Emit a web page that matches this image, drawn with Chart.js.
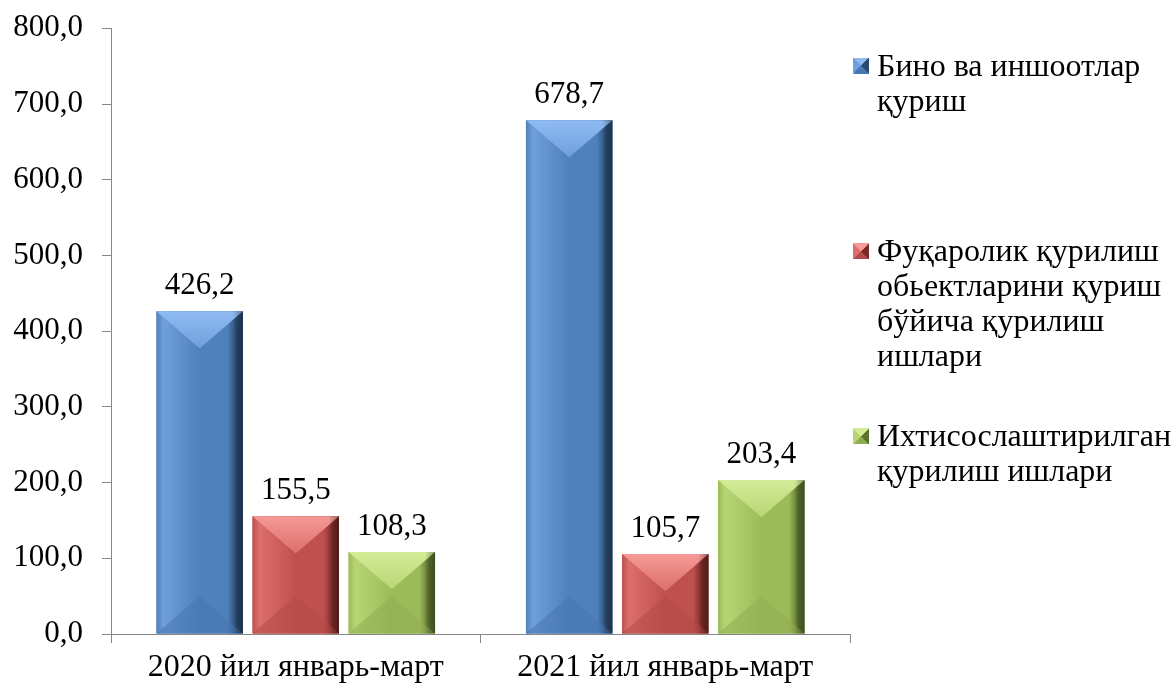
<!DOCTYPE html>
<html>
<head>
<meta charset="utf-8">
<script src="https://cdn.jsdelivr.net/npm/chart.js@4"></script>
<style>
  html,body{margin:0;padding:0;background:#fff;}
  #wrap{position:relative;width:1175px;height:689px;}
  #c{position:absolute;left:0;top:0;}
  .leg{position:absolute;left:877px;font-family:"Liberation Serif","Times New Roman",serif;font-size:32px;line-height:35px;color:#000;white-space:nowrap;}
  .mk{position:absolute;left:853px;width:16px;height:16px;}
</style>
</head>
<body>
<div id="wrap">
  <canvas id="c" width="1175" height="689"></canvas>
</div>
<script>
const categories = ["2020 йил январь-март", "2021 йил январь-март"];
const seriesNames = [
  ["Бино ва иншоотлар", "қуриш"],
  ["Фуқаролик қурилиш", "обьектларини қуриш", "бўйича қурилиш", "ишлари"],
  ["Ихтисослаштирилган", "қурилиш ишлари"]
];
const buildings = [426.2, 678.7];
const civil = [155.5, 105.7];
const specialized = [108.3, 203.4];
const yTicks = [0, 100, 200, 300, 400, 500, 600, 700, 800];

const palettes = [
  {base:"#4F81BD", light:"#8FBBF2", mid:"#6F9FDC", dark:"#2B4A70", bottom:"#4777B0"},
  {base:"#C0504D", light:"#F59A96", mid:"#DC6F6B", dark:"#7A2B29", bottom:"#B24A47"},
  {base:"#9BBB59", light:"#D4EC98", mid:"#B7D574", dark:"#5D7431", bottom:"#8FAD51"}
];

const FONT = '"Liberation Serif", "Times New Roman", serif';
const fmt = v => v.toFixed(1).replace('.', ',');

// HTML legend
const wrap = document.getElementById('wrap');
const legTopY = [48, 233, 418];
seriesNames.forEach((lines, i) => {
  const p = palettes[i];
  const mk = document.createElement('div');
  mk.className = 'mk';
  mk.style.top = (legTopY[i] + 10) + 'px';
  mk.style.background = `conic-gradient(from -45deg, ${p.light} 0deg 90deg, ${p.dark} 90deg 180deg, ${p.bottom} 180deg 270deg, ${p.mid} 270deg 360deg)`;
  wrap.appendChild(mk);
  const d = document.createElement('div');
  d.className = 'leg';
  d.style.top = legTopY[i] + 'px';
  d.innerHTML = lines.join('<br>');
  wrap.appendChild(d);
});

const bevelPlugin = {
  id: 'bevel',
  afterDatasetsDraw(chart) {
    const ctx = chart.ctx;
    chart.data.datasets.forEach((ds, di) => {
      const p = palettes[di];
      const meta = chart.getDatasetMeta(di);
      meta.data.forEach((el, idx) => {
        const L = el.x - el.width / 2, R = el.x + el.width / 2;
        const T = el.y, B = el.base;
        const w = R - L, h = B - T;
        const dpt = Math.min(w * 0.43, h / 2);
        ctx.save();
        const g = ctx.createLinearGradient(L, 0, R, 0);
        g.addColorStop(0, p.base);
        g.addColorStop(0.08, p.mid);
        g.addColorStop(0.5, p.base);
        g.addColorStop(0.82, p.base);
        g.addColorStop(0.93, p.dark);
        g.addColorStop(1, p.dark);
        ctx.fillStyle = g;
        ctx.fillRect(L, T, w, h);
        const gt = ctx.createLinearGradient(0, T, 0, T + dpt);
        gt.addColorStop(0, p.light);
        gt.addColorStop(1, p.mid);
        ctx.beginPath();
        ctx.moveTo(L, T); ctx.lineTo(R, T); ctx.lineTo(el.x, T + dpt); ctx.closePath();
        ctx.fillStyle = gt; ctx.fill();
        ctx.beginPath();
        ctx.moveTo(L, B); ctx.lineTo(R, B); ctx.lineTo(el.x, B - dpt); ctx.closePath();
        ctx.fillStyle = p.bottom; ctx.globalAlpha = 0.55; ctx.fill();
        ctx.globalAlpha = 1;
        const gr = ctx.createLinearGradient(R - w * 0.12, 0, R, 0);
        gr.addColorStop(0, 'rgba(0,0,0,0)');
        gr.addColorStop(1, 'rgba(0,0,0,0.35)');
        ctx.fillStyle = gr;
        ctx.fillRect(R - w * 0.12, T, w * 0.12, h);
        ctx.restore();
        ctx.save();
        ctx.font = '31px ' + FONT;
        ctx.fillStyle = '#000';
        ctx.textAlign = 'center';
        ctx.textBaseline = 'alphabetic';
        ctx.fillText(fmt(ds.data[idx]), el.x, T - 17);
        ctx.restore();
      });
    });
  }
};

new Chart(document.getElementById('c'), {
  type: 'bar',
  data: {
    labels: categories,
    datasets: [
      {label: seriesNames[0].join(' '), data: buildings, backgroundColor: palettes[0].base},
      {label: seriesNames[1].join(' '), data: civil, backgroundColor: palettes[1].base},
      {label: seriesNames[2].join(' '), data: specialized, backgroundColor: palettes[2].base}
    ]
  },
  options: {
    responsive: false,
    animation: false,
    events: [],
    categoryPercentage: 0.78,
    barPercentage: 0.9,
    layout: {padding: {top: 25, right: 325, left: 0, bottom: 0}},
    plugins: {legend: {display: false}, tooltip: {enabled: false}},
    scales: {
      x: {
        grid: {display: true, drawOnChartArea: false, color: '#868686', tickLength: 9, offset: true},
        border: {display: true, color: '#868686', width: 1},
        ticks: {font: {family: FONT, size: 32}, color: '#000', padding: 5, maxRotation: 0},
        afterFit(s) { s.height = 55; }
      },
      y: {
        min: 0, max: 800,
        afterBuildTicks(s) { s.ticks = yTicks.map(v => ({value: v})); },
        grid: {display: true, drawOnChartArea: false, color: '#868686', tickLength: 9},
        border: {display: true, color: '#868686', width: 1},
        ticks: {font: {family: FONT, size: 31, lineHeight: 0.6}, color: '#000', padding: 19, callback: v => fmt(v)},
        afterFit(s) { s.width = 111; }
      }
    }
  },
  plugins: [bevelPlugin]
});
</script>
</body>
</html>
